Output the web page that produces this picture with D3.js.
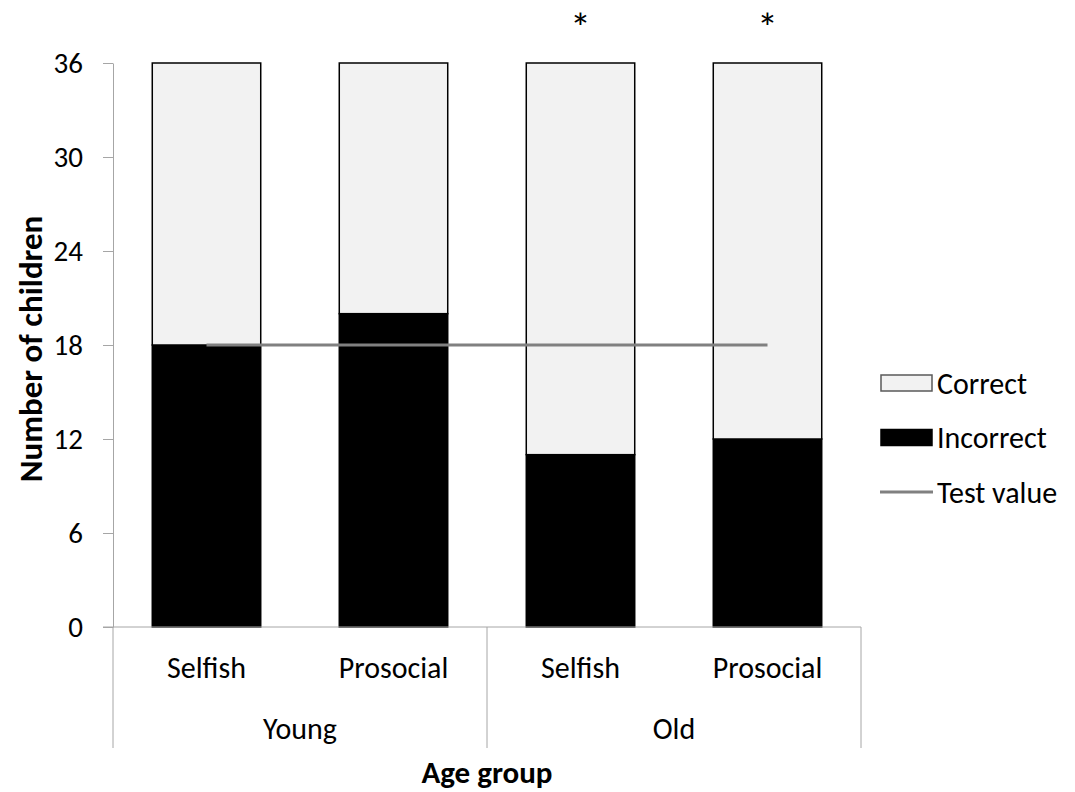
<!DOCTYPE html>
<html>
<head>
<meta charset="utf-8">
<script src="https://cdn.jsdelivr.net/npm/d3@7"></script>
<style>
  html, body { margin: 0; padding: 0; background: #fff; }
  svg { display: block; font-family: Carlito, Calibri, Lato, "Open Sans", sans-serif; }
</style>
</head>
<body>
<svg id="chart" width="1075" height="792"></svg>
<script>
// Conditions in plotting order, grouped by age
const conditions = ["Selfish", "Prosocial", "Selfish", "Prosocial"];
const ageGroups = ["Young", "Young", "Old", "Old"];
const groupNames = ["Young", "Old"];
const incorrect = [18, 20, 11, 12];
const correct = [18, 16, 25, 24];
const significant = [false, false, true, true];
const testValue = 18;
const yTicks = [0, 6, 12, 18, 24, 30, 36];

const svg = d3.select("#chart");
const plotLeft = 113, plotRight = 861, plotTop = 63, plotBottom = 627;
const fontFamily = "Carlito, Calibri, Lato, sans-serif";
const labelSize = 30;

const keys = conditions.map((c, i) => i);
const x = d3.scaleBand().domain(keys).range([plotLeft, plotRight]).paddingInner(0.42).paddingOuter(0.21);
const y = d3.scaleLinear().domain([0, 36]).range([plotBottom, plotTop]);

const axisGray = "#a6a6a6";

// y axis
const yAxis = svg.append("g").attr("transform", `translate(${plotLeft},0)`)
  .call(d3.axisLeft(y).tickValues(yTicks).tickSize(10).tickSizeOuter(0).tickPadding(20));
yAxis.attr("font-family", fontFamily).attr("font-size", 29);
yAxis.select(".domain").attr("stroke", axisGray);
yAxis.selectAll(".tick line").attr("stroke", axisGray);
yAxis.selectAll(".tick text").attr("fill", "#000");

// stacked bars
const rows = keys.map(i => ({ i, incorrect: incorrect[i], correct: correct[i] }));
const stack = d3.stack().keys(["incorrect", "correct"])(rows);
const fills = { incorrect: "#000000", correct: "#f2f2f2" };

svg.append("g").selectAll("g").data(stack).join("g")
  .attr("fill", d => fills[d.key])
  .selectAll("rect").data(d => d).join("rect")
  .attr("x", d => x(d.data.i))
  .attr("width", x.bandwidth())
  .attr("y", d => y(d[1]))
  .attr("height", d => y(d[0]) - y(d[1]))
  .attr("stroke", "#000")
  .attr("stroke-width", 1.5);

// horizontal category axis
svg.append("line").attr("x1", plotLeft - 10).attr("x2", plotRight)
  .attr("y1", plotBottom).attr("y2", plotBottom).attr("stroke", axisGray).attr("stroke-width", 1);

// group dividers
const groupEdges = [plotLeft, (plotLeft + plotRight) / 2, plotRight];
svg.append("g").selectAll("line").data(groupEdges).join("line")
  .attr("x1", d => d).attr("x2", d => d)
  .attr("y1", plotBottom).attr("y2", 748)
  .attr("stroke", axisGray).attr("stroke-width", 1);

// category labels
svg.append("g").selectAll("text").data(keys).join("text")
  .attr("x", i => x(i) + x.bandwidth() / 2)
  .attr("y", 678)
  .attr("text-anchor", "middle")
  .attr("font-size", labelSize)
  .text(i => conditions[i]);

// group labels
svg.append("g").selectAll("text").data(groupNames).join("text")
  .attr("x", g => {
    const idx = keys.filter(i => ageGroups[i] === g);
    return d3.mean(idx, i => x(i) + x.bandwidth() / 2);
  })
  .attr("y", 739)
  .attr("text-anchor", "middle")
  .attr("font-size", labelSize)
  .text(g => g);

// significance markers
svg.append("g").selectAll("text").data(keys.filter(i => significant[i])).join("text")
  .attr("x", i => x(i) + x.bandwidth() / 2)
  .attr("y", 42)
  .attr("text-anchor", "middle")
  .attr("font-size", 42)
  .text("*");

// test value line
svg.append("line")
  .attr("x1", x(0) + x.bandwidth() / 2)
  .attr("x2", x(3) + x.bandwidth() / 2)
  .attr("y1", y(testValue)).attr("y2", y(testValue))
  .attr("stroke", "#808080").attr("stroke-width", 3);

// axis titles
svg.append("text").attr("x", 487).attr("y", 783)
  .attr("text-anchor", "middle").attr("font-size", 31).attr("font-weight", "bold")
  .text("Age group");
svg.append("text")
  .attr("transform", `translate(42,${(plotTop + plotBottom) / 2 + 4}) rotate(-90)`)
  .attr("text-anchor", "middle").attr("font-size", 33).attr("font-weight", "bold")
  .text("Number of children");

// legend
const legendItems = [
  { label: "Correct", type: "rect", fill: "#f2f2f2", stroke: "#595959" },
  { label: "Incorrect", type: "rect", fill: "#000", stroke: "#000" },
  { label: "Test value", type: "line", stroke: "#808080" }
];
const lg = svg.append("g");
legendItems.forEach((d, k) => {
  const cy = 383 + k * 54.5;
  if (d.type === "rect") {
    lg.append("rect").attr("x", 881).attr("y", cy - 8).attr("width", 51).attr("height", 16)
      .attr("fill", d.fill).attr("stroke", d.stroke).attr("stroke-width", 1.5);
  } else {
    lg.append("line").attr("x1", 880).attr("x2", 933).attr("y1", cy).attr("y2", cy)
      .attr("stroke", d.stroke).attr("stroke-width", 3);
  }
  lg.append("text").attr("x", 937).attr("y", cy).attr("dy", "0.35em")
    .attr("font-size", labelSize).text(d.label);
});
</script>
</body>
</html>
